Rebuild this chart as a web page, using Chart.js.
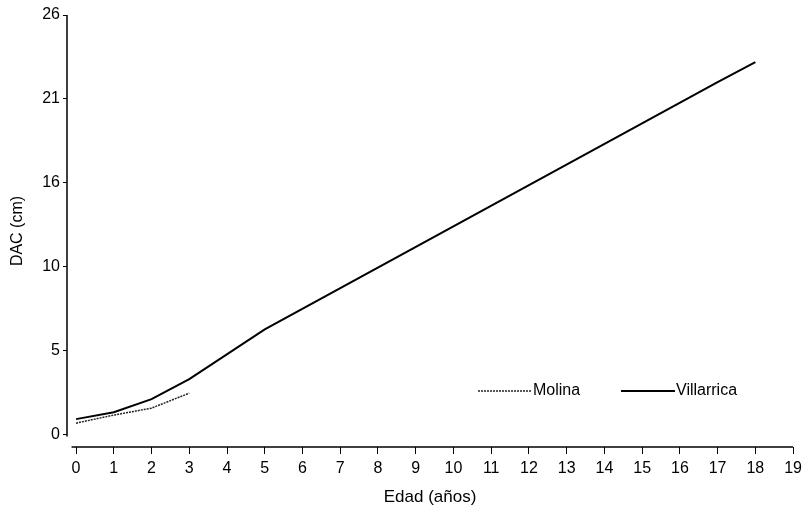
<!DOCTYPE html>
<html>
<head>
<meta charset="utf-8">
<script src="https://cdn.jsdelivr.net/npm/chart.js@4.4.1/dist/chart.umd.min.js"></script>
<style>
  body { margin: 0; background: #fff; }
  #wrap { width: 807px; height: 518px; }
</style>
</head>
<body>
<div id="wrap"><canvas id="dacChart" width="807" height="518"></canvas></div>
<script>
var edadVillarrica = [0, 1, 2, 3, 5, 17, 18];
var dacVillarrica = [0.93, 1.36, 2.17, 3.41, 6.5, 21.84, 23.08];
var edadMolina = [0, 1, 2, 3];
var dacMolina = [0.68, 1.18, 1.61, 2.54];
var xTicks = [0, 1, 2, 3, 4, 5, 6, 7, 8, 9, 10, 11, 12, 13, 14, 15, 16, 17, 18, 19];
var yTicks = [0, 5.2, 10.4, 15.6, 20.8, 26];

var narrow = "'Liberation Sans Narrow', 'Arial Narrow', 'Liberation Sans', Arial, sans-serif";

function toPoints(xs, ys) {
    return xs.map(function(x, i) { return { x: x, y: ys[i] }; });
}

var axesAndLegend = {
    id: 'axesAndLegend',
    afterDraw: function(chart) {
        var ctx = chart.ctx;
        var ca = chart.chartArea;
        var xs = chart.scales.x;
        var ys = chart.scales.y;
        ctx.save();
        ctx.strokeStyle = '#000';
        ctx.lineWidth = 1.5;
        // y axis line, detached from x axis
        ctx.beginPath();
        ctx.moveTo(ca.left, ys.getPixelForValue(26));
        ctx.lineTo(ca.left, ys.getPixelForValue(-0.15));
        ctx.stroke();
        // x axis line
        ctx.beginPath();
        ctx.moveTo(xs.getPixelForValue(-0.12), ca.bottom);
        ctx.lineTo(ca.right, ca.bottom);
        ctx.stroke();

        // legend
        var ds = chart.data.datasets;
        var items = [
            { d: ds[1], x: 478, label: 'Molina' },
            { d: ds[0], x: 621, label: 'Villarrica' }
        ];
        var ly = 391;
        ctx.font = '16px ' + narrow;
        ctx.fillStyle = '#000';
        ctx.textBaseline = 'middle';
        items.forEach(function(it) {
            ctx.beginPath();
            ctx.strokeStyle = it.d.borderColor;
            ctx.lineWidth = it.d.borderWidth;
            ctx.setLineDash(it.d.borderDash || []);
            ctx.moveTo(it.x, ly);
            ctx.lineTo(it.x + 54, ly);
            ctx.stroke();
            ctx.setLineDash([]);
            ctx.fillText(it.label, it.x + 55, ly);
        });
        ctx.restore();
    }
};

new Chart(document.getElementById('dacChart'), {
    type: 'line',
    data: {
        datasets: [{
            label: 'Villarrica',
            data: toPoints(edadVillarrica, dacVillarrica),
            borderColor: '#000',
            borderWidth: 2,
            pointRadius: 0,
            tension: 0,
            fill: false
        }, {
            label: 'Molina',
            data: toPoints(edadMolina, dacMolina),
            borderColor: '#222',
            borderWidth: 1.5,
            borderDash: [2, 1],
            pointRadius: 0,
            tension: 0,
            fill: false
        }]
    },
    options: {
        responsive: false,
        animation: false,
        layout: { padding: { top: 15, right: 12, bottom: 8, left: 8 } },
        plugins: {
            legend: { display: false },
            tooltip: { enabled: false }
        },
        scales: {
            x: {
                type: 'linear',
                min: -0.24,
                max: 19,
                afterBuildTicks: function(s) {
                    s.ticks = xTicks.map(function(v) { return { value: v }; });
                },
                afterFit: function(s) { s.height = 63; },
                border: { display: false },
                grid: {
                    drawOnChartArea: false,
                    drawTicks: true,
                    tickLength: 7,
                    color: '#000',
                    lineWidth: 1
                },
                ticks: {
                    color: '#000',
                    padding: 5,
                    maxRotation: 0,
                    autoSkip: false,
                    font: { family: narrow, size: 16 }
                },
                title: {
                    display: true,
                    text: 'Edad (años)',
                    color: '#000',
                    padding: { top: 4, bottom: 2 },
                    font: { family: narrow, size: 17 }
                }
            },
            y: {
                type: 'linear',
                min: -0.8,
                max: 26,
                afterBuildTicks: function(s) {
                    s.ticks = yTicks.map(function(v) { return { value: v }; });
                },
                afterFit: function(s) { s.width = 59; },
                border: { display: false },
                grid: {
                    drawOnChartArea: false,
                    drawTicks: true,
                    tickLength: 4,
                    color: '#000',
                    lineWidth: 1
                },
                ticks: {
                    color: '#000',
                    padding: 3,
                    font: { family: narrow, size: 16 },
                    callback: function(v) { return Math.round(v); }
                },
                title: {
                    display: true,
                    text: 'DAC (cm)',
                    color: '#000',
                    padding: 0,
                    font: { family: "'Liberation Sans', Arial, sans-serif", size: 16 }
                }
            }
        }
    },
    plugins: [axesAndLegend]
});
</script>
</body>
</html>
